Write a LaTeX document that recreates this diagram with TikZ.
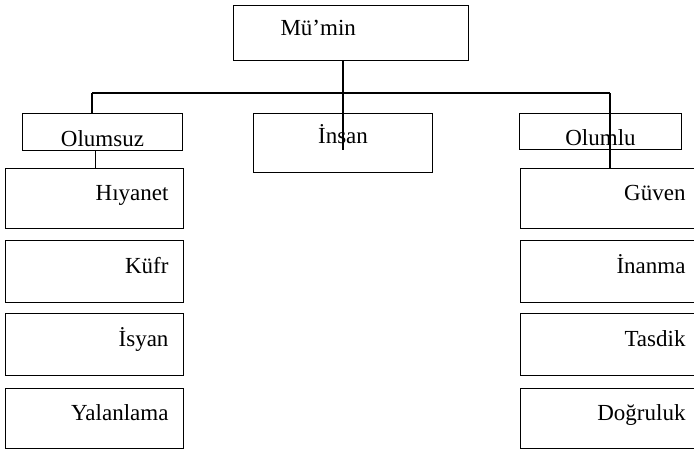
\documentclass[tikz,border=0pt]{standalone}
\usepackage{fontspec}
\setmainfont{Liberation Serif}
\begin{document}
\begin{tikzpicture}[x=1pt,y=-1pt,
  every node/.style={font=\fontsize{23}{27}\selectfont},
  box/.style={draw=black, line width=1pt, rectangle, anchor=north west, inner ysep=0pt},
  colbox/.style={box, inner xsep=15pt, align=right, text height=16pt, text depth=12pt},
  conn/.style={draw=black, line width=1.4pt}]
\clip (0,0) rectangle (694,451);
% top
\node[box, minimum height=55pt, inner xsep=47pt, text width=141pt, align=left,
      text height=17pt, text depth=12pt] (mumin) at (233,5) {Mü’min};
% second row
\node[box, minimum width=160pt, minimum height=37pt, text height=28pt, text depth=0pt] (olumsuz) at (22,113) {Olumsuz};
\node[box, minimum width=179pt, minimum height=59pt, text height=12pt, text depth=12pt] (insan) at (253,113) {İnsan};
\node[box, minimum width=162pt, minimum height=36pt, text height=28pt, text depth=0pt] (olumlu) at (519,113) {Olumlu};
% left column
\node[colbox, text width=148pt, minimum height=60pt] (hiyanet) at (5,168) {Hıyanet};
\node[colbox, text width=148pt, minimum height=62pt] (kufr) at (5,240) {Küfr};
\node[colbox, text width=148pt, minimum height=62pt] (isyan) at (5,313) {İsyan};
\node[colbox, text width=148pt, minimum height=60pt] (yalanlama) at (5,388) {Yalanlama};
% right column
\node[colbox, text width=150pt, minimum height=60pt] (guven) at (520,168) {Güven};
\node[colbox, text width=150pt, minimum height=62pt] (inanma) at (520,240) {İnanma};
\node[colbox, text width=150pt, minimum height=62pt] (tasdik) at (520,313) {Tasdik};
\node[colbox, text width=150pt, minimum height=60pt] (dogruluk) at (520,388) {Doğruluk};
% connectors
\coordinate (hl) at (92,93);
\coordinate (hr) at (610,93);
\coordinate (mend) at (343,150);
\draw[conn] (hl) -- (hr);
\draw[conn] (mend |- mumin.south) -- (mend);
\draw[conn] (hl) -- (hl |- olumsuz.north);
\draw[conn] (hr) -- (hr |- guven.north);
\draw[conn] ([xshift=-7pt]olumsuz.south) -- ([xshift=-7pt]olumsuz.south |- hiyanet.north);
\end{tikzpicture}
\end{document}
